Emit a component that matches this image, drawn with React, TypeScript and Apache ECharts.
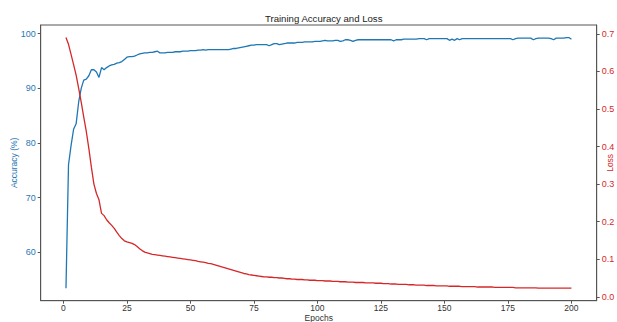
import React, { useEffect, useRef } from "react";
import * as echarts from "echarts";

const epochs: number[] = Array.from({ length: 200 }, (_, i) => i + 1);

const accuracy: number[] = [
  53.4, 76.0, 79.5, 82.5, 83.5, 87.5, 90.0, 91.5, 91.7, 92.3,
  93.4, 93.4, 93.0, 92.0, 93.8, 93.4, 93.8, 94.1, 94.3, 94.4,
  94.6, 94.7, 94.9, 95.3, 95.7, 95.8, 95.8, 95.9, 96.1, 96.3,
  96.4, 96.5, 96.5, 96.6, 96.6, 96.7, 96.8, 96.5, 96.5, 96.5,
  96.6, 96.6, 96.6, 96.7, 96.7, 96.7, 96.8, 96.8, 96.8, 96.9,
  96.9, 96.9, 97.0, 97.0, 97.1, 97.0, 97.1, 97.1, 97.1, 97.1,
  97.1, 97.1, 97.1, 97.1, 97.1, 97.2, 97.3, 97.3, 97.4, 97.5,
  97.6, 97.7, 97.8, 97.9, 97.9, 98.0, 98.0, 98.0, 98.0, 98.0,
  97.8, 98.0, 98.2, 98.2, 98.0, 98.1, 98.2, 98.3, 98.3, 98.3,
  98.3, 98.4, 98.4, 98.4, 98.5, 98.5, 98.5, 98.5, 98.6, 98.6,
  98.6, 98.7, 98.8, 98.7, 98.7, 98.7, 98.8, 98.8, 98.6, 98.7,
  98.9, 98.9, 98.8, 98.6, 98.8, 98.9, 98.9, 98.9, 98.9, 98.9,
  98.9, 98.9, 98.9, 98.9, 98.9, 98.9, 98.9, 98.9, 98.9, 98.7,
  98.9, 98.9, 98.9, 99.0, 99.0, 99.0, 99.0, 99.0, 99.0, 99.1,
  99.1, 99.1, 98.9, 99.1, 99.1, 99.1, 99.1, 99.1, 99.1, 99.1,
  99.1, 98.8, 99.0, 98.8, 99.1, 98.9, 99.1, 99.1, 99.1, 99.1,
  99.1, 99.1, 99.1, 99.1, 99.1, 99.1, 99.1, 99.1, 99.1, 99.1,
  99.1, 99.1, 99.1, 99.1, 99.1, 99.1, 98.9, 99.1, 99.2, 99.2,
  99.2, 99.2, 99.2, 99.2, 98.9, 99.1, 99.2, 99.2, 99.2, 99.2,
  99.2, 99.1, 98.9, 99.2, 99.2, 99.2, 99.2, 99.3, 99.3, 99.0,
];

const loss: number[] = [
  0.690, 0.672, 0.645, 0.618, 0.590, 0.555, 0.518, 0.478, 0.440, 0.395,
  0.345, 0.300, 0.275, 0.258, 0.222, 0.216, 0.205, 0.197, 0.190, 0.182,
  0.172, 0.163, 0.155, 0.149, 0.146, 0.144, 0.142, 0.139, 0.134, 0.128,
  0.123, 0.119, 0.117, 0.115, 0.113, 0.112, 0.111, 0.110, 0.109, 0.108,
  0.107, 0.106, 0.105, 0.104, 0.103, 0.102, 0.101, 0.100, 0.099, 0.098,
  0.097, 0.096, 0.094, 0.093, 0.092, 0.091, 0.089, 0.088, 0.086, 0.084,
  0.082, 0.080, 0.078, 0.076, 0.074, 0.072, 0.070, 0.068, 0.066, 0.064,
  0.062, 0.061, 0.059, 0.058, 0.057, 0.056, 0.055, 0.054, 0.053, 0.053,
  0.052, 0.052, 0.051, 0.051, 0.050, 0.050, 0.049, 0.048, 0.048, 0.047,
  0.047, 0.046, 0.046, 0.046, 0.045, 0.045, 0.044, 0.044, 0.044, 0.043,
  0.043, 0.043, 0.042, 0.042, 0.042, 0.041, 0.041, 0.041, 0.040, 0.040,
  0.040, 0.039, 0.039, 0.039, 0.038, 0.038, 0.038, 0.038, 0.037, 0.037,
  0.037, 0.037, 0.036, 0.036, 0.036, 0.035, 0.035, 0.035, 0.034, 0.034,
  0.034, 0.033, 0.033, 0.033, 0.033, 0.032, 0.032, 0.032, 0.031, 0.031,
  0.031, 0.031, 0.030, 0.030, 0.030, 0.030, 0.029, 0.029, 0.029, 0.029,
  0.029, 0.028, 0.028, 0.028, 0.028, 0.028, 0.027, 0.027, 0.027, 0.027,
  0.027, 0.027, 0.026, 0.026, 0.026, 0.026, 0.026, 0.026, 0.026, 0.025,
  0.025, 0.025, 0.025, 0.025, 0.025, 0.025, 0.025, 0.024, 0.024, 0.024,
  0.024, 0.024, 0.024, 0.024, 0.024, 0.024, 0.023, 0.023, 0.023, 0.023,
  0.023, 0.023, 0.023, 0.023, 0.023, 0.023, 0.023, 0.023, 0.023, 0.023,
];

const xTicks: number[] = [0, 25, 50, 75, 100, 125, 150, 175, 200];
const accTicks: number[] = [60, 70, 80, 90, 100];
const lossTicks: number[] = [0, 0.1, 0.2, 0.3, 0.4, 0.5, 0.6, 0.7];

const BLUE = "#1f77b4";
const RED = "#d62728";
const FONT = "Liberation Sans";

export default function App() {
  const ref = useRef<HTMLDivElement>(null);
  useEffect(() => {
    if (!ref.current) return;
    const chart = echarts.init(ref.current, null, { renderer: "svg" });
    const tickStyle = { show: true, length: 3, lineStyle: { color: "#555", width: 1 } };
    chart.setOption({
      animation: false,
      backgroundColor: "#ffffff",
      textStyle: { fontFamily: FONT },
      title: {
        text: "Training Accuracy and Loss",
        left: 318.7,
        textAlign: "center",
        top: 8,
        textStyle: { fontSize: 9.6, fontWeight: "normal", color: "#222", fontFamily: FONT },
      },
      grid: {
        left: 40.7,
        right: 20.3,
        top: 25,
        bottom: 21.3,
        show: true,
        borderColor: "#555",
        borderWidth: 1,
        backgroundColor: "transparent",
        outerBoundsMode: "none",
        containLabel: false,
      },
      xAxis: {
        type: "value",
        min: -8.95,
        max: 209.95,
        name: "Epochs",
        nameLocation: "middle",
        nameGap: 12.5,
        nameMoveOverlap: false,
        nameTextStyle: { fontSize: 8.5, color: "#333", fontFamily: FONT },
        axisLine: { show: true, onZero: false, lineStyle: { color: "#555" } },
        axisTick: { ...tickStyle, customValues: xTicks },
        axisLabel: { customValues: xTicks, fontSize: 8.5, color: "#333", margin: 3, fontFamily: FONT },
        splitLine: { show: false },
      },
      yAxis: [
        {
          type: "value",
          min: 51.1,
          max: 101.6,
          position: "left",
          name: "Accuracy (%)",
          nameLocation: "middle",
          nameGap: 22,
          nameMoveOverlap: false,
          nameRotate: 90,
          nameTextStyle: { fontSize: 8.5, color: BLUE, fontFamily: FONT },
          axisLine: { show: true, onZero: false, lineStyle: { color: "#555" } },
          axisTick: { ...tickStyle, customValues: accTicks },
          axisLabel: { customValues: accTicks, fontSize: 9, color: BLUE, margin: 5, fontFamily: FONT },
          splitLine: { show: false },
        },
        {
          type: "value",
          min: -0.0104,
          max: 0.7234,
          position: "right",
          name: "Loss",
          nameLocation: "middle",
          nameGap: 9,
          nameMoveOverlap: false,
          nameRotate: 90,
          nameTextStyle: { fontSize: 8.5, color: RED, fontFamily: FONT },
          axisLine: { show: true, onZero: false, lineStyle: { color: "#555" } },
          axisTick: { ...tickStyle, customValues: lossTicks },
          axisLabel: {
            customValues: lossTicks,
            fontSize: 9,
            color: RED,
            margin: 5,
            fontFamily: FONT,
            formatter: (v: number) => v.toFixed(1),
          },
          splitLine: { show: false },
        },
      ],
      series: [
        {
          name: "Accuracy",
          type: "line",
          yAxisIndex: 0,
          showSymbol: false,
          data: epochs.map((e, i) => [e, accuracy[i]]),
          lineStyle: { color: BLUE, width: 1.3 },
          itemStyle: { color: BLUE },
          z: 2,
        },
        {
          name: "Loss",
          type: "line",
          yAxisIndex: 1,
          showSymbol: false,
          data: epochs.map((e, i) => [e, loss[i]]),
          lineStyle: { color: RED, width: 1.3 },
          itemStyle: { color: RED },
          z: 3,
        },
      ],
    });
    return () => chart.dispose();
  }, []);
  return (
    <div
      ref={ref}
      style={{ position: "fixed", left: 0, top: 0, width: 617, height: 322, background: "#fff" }}
    />
  );
}
